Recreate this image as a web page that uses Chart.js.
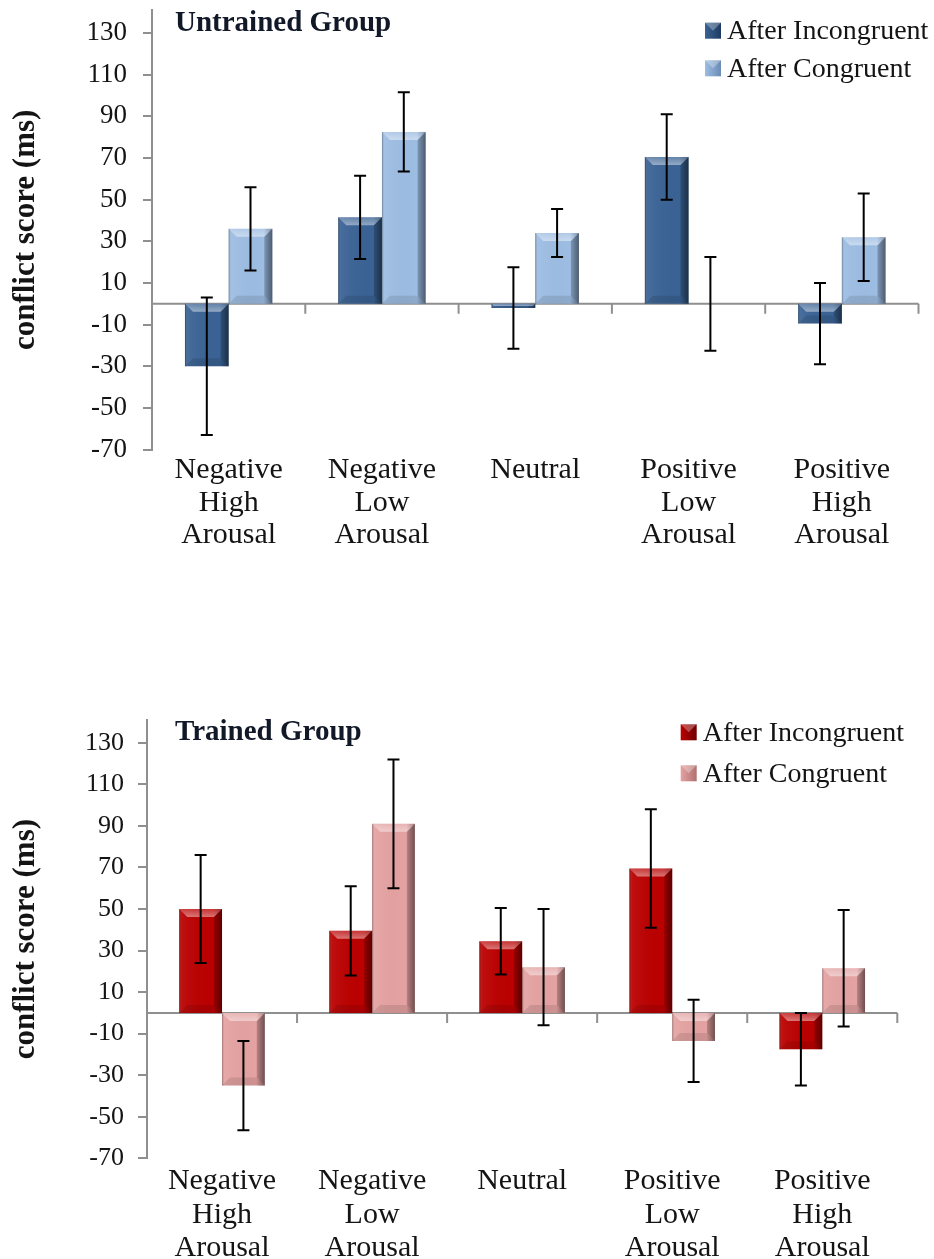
<!DOCTYPE html>
<html lang="en">
<head>
    <meta charset="UTF-8">
    <title>Conflict score by emotion category - Untrained vs Trained</title>
    <script src="https://cdn.jsdelivr.net/npm/chart.js@4.4.1/dist/chart.umd.min.js"></script>
    <style>
        html, body {
            margin: 0;
            padding: 0;
            background: #fff;
            overflow: hidden;
        }

        .panel {
            position: absolute;
            left: 0;
            width: 934px;
            height: 600px;
        }

        #untrainedPanel { top: 0; }
        #trainedPanel { top: 700px; }
    </style>
</head>
<body>
    <div class="panel" id="untrainedPanel"><canvas id="untrainedChart"></canvas></div>
    <div class="panel" id="trainedPanel"><canvas id="trainedChart"></canvas></div>

    <script>
        // ---- data ----
        const categories = [
            ['Negative', 'High', 'Arousal'],
            ['Negative', 'Low', 'Arousal'],
            'Neutral',
            ['Positive', 'Low', 'Arousal'],
            ['Positive', 'High', 'Arousal']
        ];
        const seriesNames = ['After Incongruent', 'After Congruent'];
        const yTickValues = [-70, -50, -30, -10, 10, 30, 50, 70, 90, 110, 130];
        const yMin = -70;
        const yMax = 141;

        const untrainedIncongruent = [-30, 41.5, -2, 70.5, -9.5];
        const untrainedIncongruentErr = [33, 20, 19.5, 20.5, 19.5];
        const untrainedCongruent = [36, 82.5, 34, 0, 32];
        const untrainedCongruentErr = [20, 19, 11.5, 22.5, 21];

        const trainedIncongruent = [50, 39.5, 34.5, 69.5, -17.5];
        const trainedIncongruentErr = [26, 21.5, 16, 28.5, 17.5];
        const trainedCongruent = [-35, 91, 22, -13.5, 21.5];
        const trainedCongruentErr = [21.5, 31, 28, 19.8, 28];

        const serif = '"Liberation Serif", "Times New Roman", serif';
        const textColor = '#141414';
        const axisColor = '#8f8f8f';

        Chart.defaults.font.family = serif;
        Chart.defaults.color = textColor;

        // gray x axis line drawn at zero, with category tick marks hanging below it
        const zeroAxis = {
            id: 'zeroAxis',
            beforeDatasetsDraw(chart) {
                const {ctx, chartArea, scales} = chart;
                const y0 = scales.y.getPixelForValue(0);
                ctx.save();
                ctx.strokeStyle = axisColor;
                ctx.lineWidth = 2;
                ctx.beginPath();
                ctx.moveTo(chartArea.left, y0);
                ctx.lineTo(chartArea.right, y0);
                for (let k = 1; k <= categories.length; k++) {
                    const x = scales.x.getPixelForValue(k - 0.5);
                    ctx.moveTo(x, y0);
                    ctx.lineTo(x, y0 + 10);
                }
                ctx.stroke();
                ctx.restore();
            }
        };

        // excel-like bevel on each bar
        const bevel = {
            id: 'bevel',
            afterDatasetsDraw(chart) {
                const ctx = chart.ctx;
                chart.data.datasets.forEach((ds, i) => {
                    chart.getDatasetMeta(i).data.forEach(bar => {
                        const l = bar.x - bar.width / 2, r = bar.x + bar.width / 2;
                        const t = Math.min(bar.y, bar.base), b = Math.max(bar.y, bar.base);
                        const h = b - t;
                        if (h < 1) return;
                        const d = Math.min(8, h / 2);
                        ctx.save();
                        const g = ctx.createLinearGradient(l, 0, r, 0);
                        g.addColorStop(0, 'rgba(0,0,0,0.35)');
                        g.addColorStop(0.06, 'rgba(255,255,255,0.06)');
                        g.addColorStop(0.8, 'rgba(0,0,0,0)');
                        g.addColorStop(1, 'rgba(0,0,0,0.4)');
                        ctx.fillStyle = g;
                        ctx.fillRect(l, t, r - l, h);

                        ctx.beginPath();
                        ctx.moveTo(l, t); ctx.lineTo(r, t);
                        ctx.lineTo(r - d, t + d); ctx.lineTo(l + d, t + d);
                        ctx.closePath();
                        const tg = ctx.createLinearGradient(0, t, 0, t + d);
                        tg.addColorStop(0, 'rgba(255,255,255,0.2)');
                        tg.addColorStop(1, 'rgba(255,255,255,0.45)');
                        ctx.fillStyle = tg;
                        ctx.fill();

                        ctx.beginPath();
                        ctx.moveTo(r, t); ctx.lineTo(r, b);
                        ctx.lineTo(r - d, b - d); ctx.lineTo(r - d, t + d);
                        ctx.closePath();
                        ctx.fillStyle = 'rgba(0,0,0,0.18)';
                        ctx.fill();

                        ctx.beginPath();
                        ctx.moveTo(l, b); ctx.lineTo(r, b);
                        ctx.lineTo(r - d, b - d); ctx.lineTo(l + d, b - d);
                        ctx.closePath();
                        ctx.fillStyle = 'rgba(0,0,0,0.1)';
                        ctx.fill();
                        ctx.restore();
                    });
                });
            }
        };

        // +/- error bars from each dataset's errors array
        const errorBars = {
            id: 'errorBars',
            afterDatasetsDraw(chart) {
                const {ctx, scales} = chart;
                ctx.save();
                ctx.strokeStyle = '#000';
                ctx.lineWidth = 2;
                chart.data.datasets.forEach((ds, i) => {
                    chart.getDatasetMeta(i).data.forEach((bar, j) => {
                        const v = ds.data[j], e = ds.errors[j];
                        const yHi = scales.y.getPixelForValue(v + e);
                        const yLo = scales.y.getPixelForValue(v - e);
                        ctx.beginPath();
                        ctx.moveTo(bar.x, yHi); ctx.lineTo(bar.x, yLo);
                        ctx.moveTo(bar.x - 6, yHi); ctx.lineTo(bar.x + 6, yHi);
                        ctx.moveTo(bar.x - 6, yLo); ctx.lineTo(bar.x + 6, yLo);
                        ctx.stroke();
                    });
                });
                ctx.restore();
            }
        };

        // group title and legend inside the plot, top-left / top-right
        const header = {
            id: 'header',
            afterDraw(chart) {
                const opt = chart.options.plugins.header;
                const ctx = chart.ctx;
                ctx.save();
                ctx.fillStyle = '#111827';
                ctx.textBaseline = 'middle';
                ctx.font = 'bold 29px ' + serif;
                ctx.fillText(opt.title, chart.chartArea.left + opt.titleDx, opt.titleY);

                ctx.font = '28px ' + serif;
                chart.data.datasets.forEach((ds, i) => {
                    const y = opt.legendY[i];
                    const x = opt.legendX;
                    const g = ctx.createLinearGradient(x, 0, x + 16, 0);
                    g.addColorStop(0, ds.backgroundColor);
                    g.addColorStop(1, ds.edgeColor);
                    ctx.fillStyle = g;
                    ctx.fillRect(x, y - 8, 16, 16);
                    ctx.fillStyle = 'rgba(255,255,255,0.3)';
                    ctx.beginPath();
                    ctx.moveTo(x, y - 8); ctx.lineTo(x + 16, y - 8); ctx.lineTo(x + 8, y);
                    ctx.closePath();
                    ctx.fill();
                    ctx.fillStyle = textColor;
                    ctx.fillText(ds.label, x + 22, y + 1);
                });
                ctx.restore();
            }
        };

        function makeChart(canvasId, cfg) {
            return new Chart(document.getElementById(canvasId), {
                type: 'bar',
                data: {
                    labels: categories,
                    datasets: [{
                        label: seriesNames[0],
                        data: cfg.incongruent,
                        errors: cfg.incongruentErr,
                        backgroundColor: cfg.colors[0],
                        edgeColor: cfg.edges[0],
                        borderWidth: 0
                    }, {
                        label: seriesNames[1],
                        data: cfg.congruent,
                        errors: cfg.congruentErr,
                        backgroundColor: cfg.colors[1],
                        edgeColor: cfg.edges[1],
                        borderWidth: 0
                    }]
                },
                options: {
                    responsive: true,
                    maintainAspectRatio: false,
                    animation: false,
                    datasets: {
                        bar: { categoryPercentage: 0.57, barPercentage: 1.0 }
                    },
                    layout: {
                        padding: { top: cfg.padTop, right: cfg.padRight, bottom: 0, left: 0 }
                    },
                    plugins: {
                        legend: { display: false },
                        tooltip: { enabled: false },
                        header: cfg.header
                    },
                    scales: {
                        x: {
                            grid: { display: false, drawTicks: false },
                            border: { display: false },
                            ticks: {
                                color: textColor,
                                padding: cfg.xPad,
                                maxRotation: 0,
                                autoSkip: false,
                                font: { size: 30, lineHeight: cfg.xLine }
                            },
                            afterFit(scale) {
                                scale.height = cfg.xHeight;
                                scale.paddingLeft = 0;
                                scale.paddingRight = 0;
                            }
                        },
                        y: {
                            min: yMin,
                            max: yMax,
                            afterBuildTicks(scale) {
                                scale.ticks = yTickValues.map(v => ({ value: v }));
                            },
                            grid: {
                                drawOnChartArea: false,
                                drawTicks: true,
                                tickLength: 9,
                                color: axisColor,
                                lineWidth: 2
                            },
                            border: { display: true, color: axisColor, width: 2 },
                            ticks: {
                                color: textColor,
                                padding: cfg.yPad,
                                font: { size: cfg.yFont }
                            },
                            title: {
                                display: true,
                                text: 'conflict score (ms)',
                                color: textColor,
                                padding: { top: 7, bottom: 0 },
                                font: { size: 31, weight: 'bold' }
                            },
                            afterFit(scale) {
                                scale.width = cfg.axisLeft;
                                scale.paddingTop = 0;
                                scale.paddingBottom = 0;
                            }
                        }
                    }
                },
                plugins: [zeroAxis, bevel, errorBars, header]
            });
        }

        makeChart('untrainedChart', {
            incongruent: untrainedIncongruent,
            incongruentErr: untrainedIncongruentErr,
            congruent: untrainedCongruent,
            congruentErr: untrainedCongruentErr,
            colors: ['#3a6395', '#9dbde3'],
            edges: ['#1d3a60', '#6a8bb5'],
            padTop: 10,
            padRight: 15.5,
            axisLeft: 152,
            xHeight: 150.3,
            xPad: 4,
            xLine: 1.09,
            yPad: 16,
            yFont: 27,
            header: {
                title: 'Untrained Group',
                titleDx: 23,
                titleY: 24,
                legendX: 705,
                legendY: [30.7, 68.3]
            }
        });

        makeChart('trainedChart', {
            incongruent: trainedIncongruent,
            incongruentErr: trainedIncongruentErr,
            congruent: trainedCongruent,
            congruentErr: trainedCongruentErr,
            colors: ['#bb0000', '#e5a2a2'],
            edges: ['#6e0000', '#b07070'],
            padTop: 20,
            padRight: 36.7,
            axisLeft: 147,
            xHeight: 141.7,
            xPad: 6,
            xLine: 1.12,
            yPad: 14,
            yFont: 26,
            header: {
                title: 'Trained Group',
                titleDx: 28,
                titleY: 32.3,
                legendX: 680.7,
                legendY: [32.3, 73.3]
            }
        });
    </script>
</body>
</html>
